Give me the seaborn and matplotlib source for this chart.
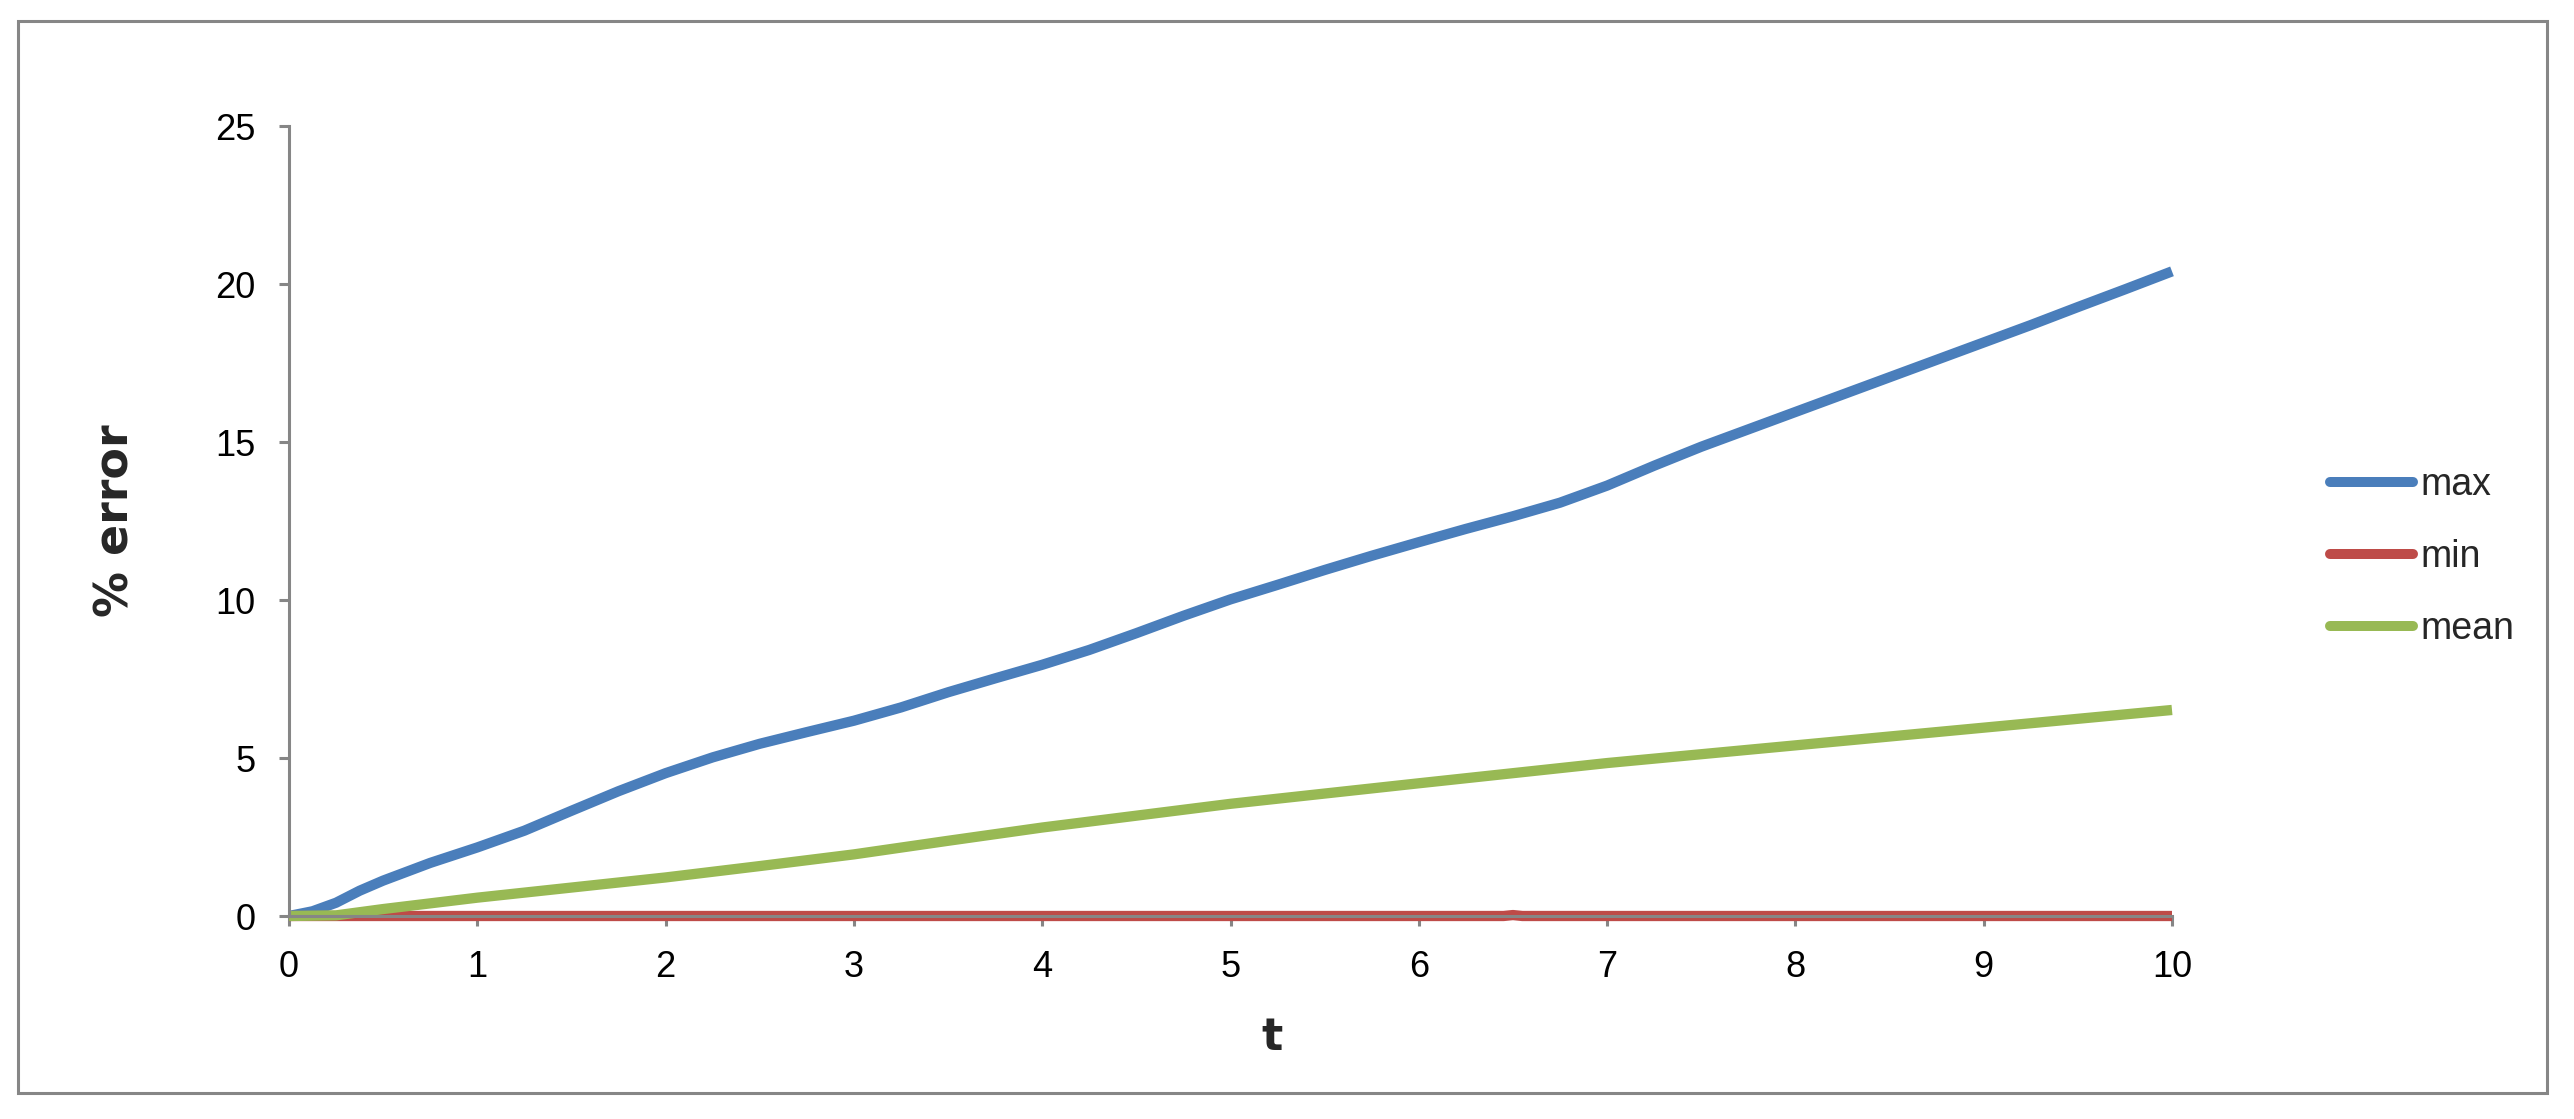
import matplotlib
matplotlib.use("Agg")
import matplotlib.pyplot as plt
from matplotlib.patches import Rectangle
from matplotlib.lines import Line2D
import pandas as pd
import seaborn as sns

# series data
t_max = [0, 0.125, 0.25, 0.375, 0.5, 0.75, 1, 1.25, 1.5, 1.75, 2, 2.25, 2.5, 2.75, 3,
         3.25, 3.5, 3.75, 4, 4.25, 4.5, 4.75, 5, 5.25, 5.5, 5.75, 6, 6.25, 6.5, 6.75,
         7, 7.25, 7.5, 7.75, 8, 8.25, 8.5, 8.75, 9, 9.25, 9.5, 9.75, 10]
err_max = [0, 0.15, 0.42, 0.8, 1.12, 1.68, 2.17, 2.7, 3.33, 3.95, 4.52, 5.02, 5.45, 5.82, 6.18,
           6.6, 7.08, 7.52, 7.95, 8.42, 8.95, 9.5, 10.02, 10.48, 10.95, 11.4, 11.83, 12.25, 12.65, 13.08,
           13.62, 14.25, 14.85, 15.4, 15.95, 16.5, 17.05, 17.6, 18.15, 18.7, 19.27, 19.83, 20.4]
t_min = [0, 1, 2, 3, 4, 5, 6, 6.45, 6.5, 6.55, 7, 8, 9, 10]
err_min = [0, 0, 0, 0, 0, 0, 0, 0, 0.03, 0, 0, 0, 0, 0]
t_mean = [0, 0.25, 0.5, 1, 1.5, 2, 2.5, 3, 3.5, 4, 5, 6, 7, 8, 9, 10]
err_mean = [0, 0.02, 0.22, 0.58, 0.9, 1.22, 1.58, 1.95, 2.38, 2.8, 3.55, 4.2, 4.84, 5.4, 5.96, 6.52]

series_names = ["max", "min", "mean"]
series_colors = ["#4A7EBB", "#BE4B48", "#98B954"]
x_ticks = list(range(0, 11))
y_ticks = [0, 5, 10, 15, 20, 25]

df = pd.concat([
    pd.DataFrame({"t": t_max, "error": err_max, "series": "max"}),
    pd.DataFrame({"t": t_min, "error": err_min, "series": "min"}),
    pd.DataFrame({"t": t_mean, "error": err_mean, "series": "mean"}),
], ignore_index=True)

sns.set_style("white")
tick_font = ["Liberation Sans Narrow", "Liberation Sans", "DejaVu Sans"]
plt.rcParams["font.family"] = tick_font

W, H = 2574, 1119
fig = plt.figure(figsize=(W / 100, H / 100), dpi=100)
ax = fig.add_axes([289 / W, 1 - 916 / H, (2172 - 289) / W, (916 - 126) / H])

palette = dict(zip(series_names, series_colors))
sns.lineplot(data=df, x="t", y="error", hue="series", hue_order=series_names,
             palette=palette, linewidth=7.4, legend=False, ax=ax, sort=True)
for ln in ax.lines:
    ln.set_clip_on(False)
    ln.set_solid_capstyle("butt")
    ln.set_solid_joinstyle("round")

ax.set_xlim(0, 10)
ax.set_ylim(0, 25)
ax.set_xticks(x_ticks)
ax.set_yticks(y_ticks)

grey = "#868686"
for side in ["top", "right"]:
    ax.spines[side].set_visible(False)
for side in ["left", "bottom"]:
    ax.spines[side].set_color(grey)
    ax.spines[side].set_linewidth(2.2)
ax.tick_params(axis="both", direction="out", length=7.2, width=2.2, color=grey,
               labelsize=26, pad=17, labelcolor="black")
ax.tick_params(axis="both", which="both", left=True, bottom=True)

ax.set_ylabel("% error", fontsize=33, fontweight="bold", family="DejaVu Sans", va="center")
ax.yaxis.set_label_coords((116 - 289) / 1883, 0.5)
ax.set_xlabel("t", fontsize=32, fontweight="bold", family="DejaVu Sans", va="center")
ax.xaxis.set_label_coords((1272 - 289) / 1883, (916 - 1038) / 790)

handles = [Line2D([0], [0], color=c, lw=7.2, solid_capstyle="round") for c in series_colors]
fig.legend(handles, series_names, loc="center left",
           bbox_to_anchor=(2330 / W, 1 - 557 / H), frameon=False, fontsize=27,
           handlelength=2.2, handletextpad=0.2, labelspacing=0.95,
           borderpad=0, borderaxespad=0)

# outer chart border
fig.patches.append(Rectangle((18 / W, 1 - 1093 / H), (2547 - 18) / W, (1093 - 21) / H,
                             transform=fig.transFigure, fill=False,
                             edgecolor=grey, linewidth=2.2))

fig.savefig("out.png", dpi=100)
